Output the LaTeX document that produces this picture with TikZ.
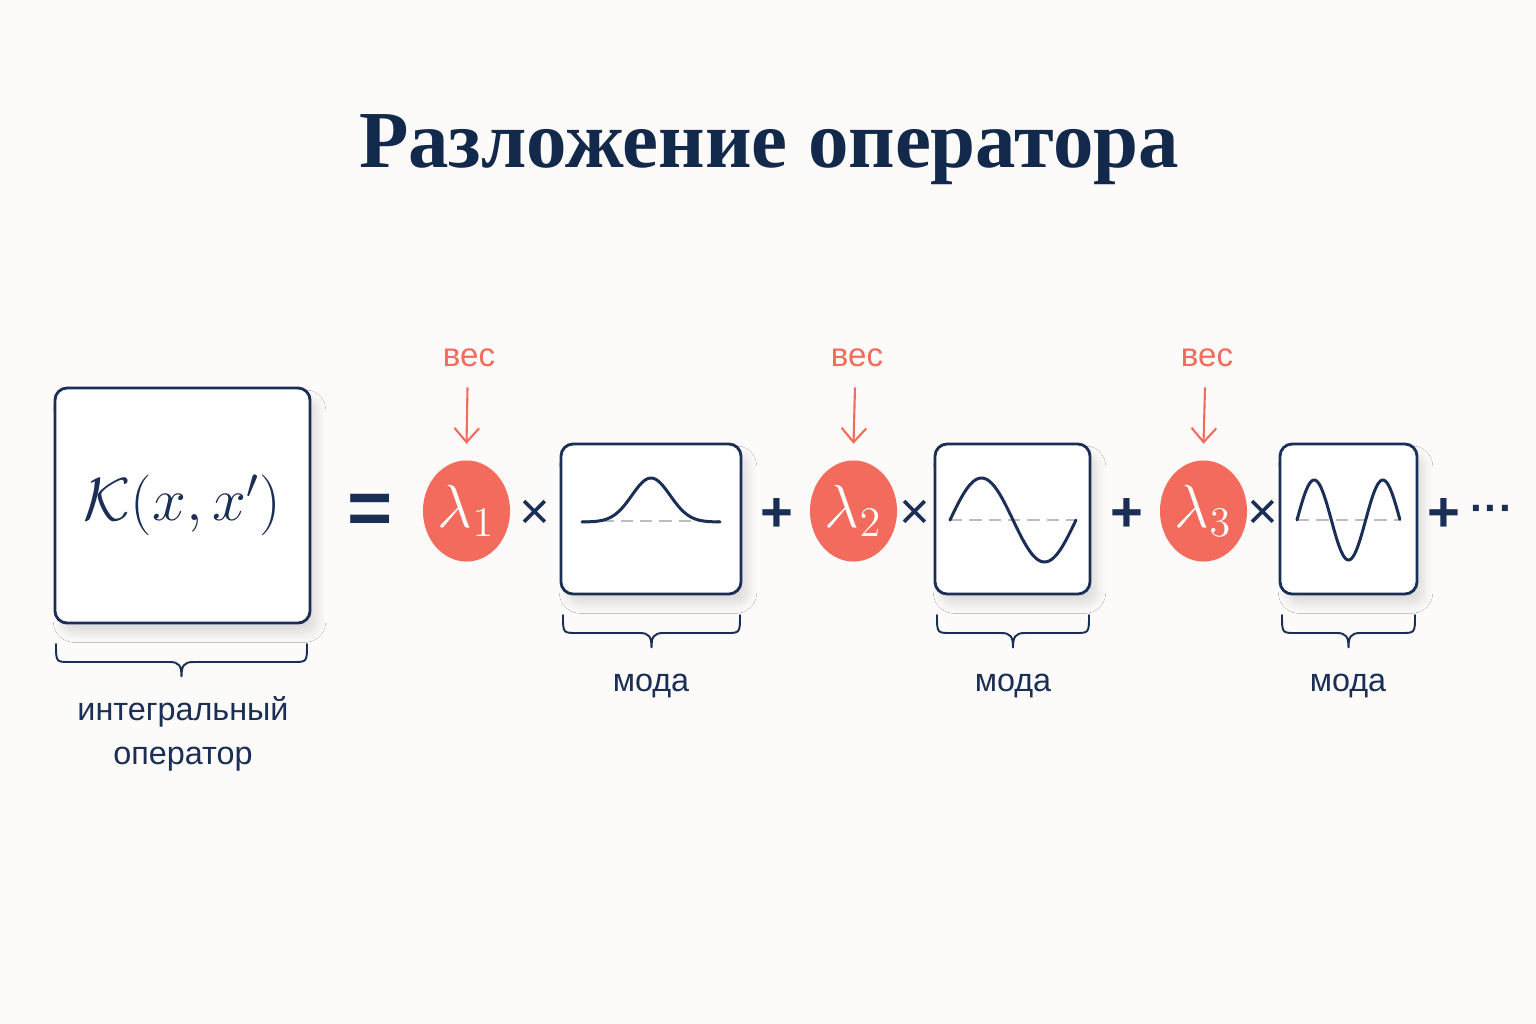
\documentclass[tikz,border=0pt]{standalone}
\usepackage{fontspec}
\setmainfont{Liberation Serif}
\setsansfont{Liberation Sans}
\usetikzlibrary{shapes.geometric,arrows.meta,shadows.blur,calc}
\definecolor{navy}{HTML}{1B2E56}
\definecolor{titlenavy}{HTML}{13294B}
\definecolor{coral}{HTML}{F36B5C}
\definecolor{bgc}{HTML}{FCFBF9}
\definecolor{dashgray}{HTML}{BDBDBD}
\newcommand\mybrace[5]{% x1 x2 top line tip
  \pgfmathsetmacro\bc{(#1+#2)/2}
  \draw[bracestyle] (#1,#3) .. controls (#1,#4) .. (#1+14,#4) -- (\bc-12,#4)
     .. controls (\bc-2,#4) and (\bc,#4+4) .. (\bc,#5)
     .. controls (\bc,#4+4) and (\bc+2,#4) .. (\bc+12,#4) -- (#2-14,#4)
     .. controls (#2,#4) .. (#2,#3);}
\begin{document}
\begin{tikzpicture}[x=0.01cm,y=-0.01cm,
  boxstyle/.style={draw=navy, line width=0.8pt, rounded corners=3.5pt, fill=white, inner sep=0pt,
     blur shadow={shadow xshift=2pt, shadow yshift=-3pt, shadow blur radius=2.5pt, shadow blur steps=10, shadow opacity=12}},
  lam/.style={ellipse, fill=coral, minimum width=0.87cm, minimum height=1.01cm, inner sep=0pt,
     text=white, font=\fontsize{18}{20}\selectfont},
  wlabel/.style={text=coral, font=\sffamily\fontsize{9.4}{11}\selectfont, inner sep=1pt},
  warrow/.style={draw=coral, line width=0.6pt, -{Straight Barb[length=4pt,width=7pt,line width=0.6pt]}},
  op/.style={text=navy, inner sep=0pt},
  curve/.style={draw=navy, line width=0.85pt, line cap=round},
  zeroline/.style={draw=dashgray, line width=0.7pt, dash pattern=on 3.5pt off 2pt},
  bracestyle/.style={draw=navy, line width=0.55pt, line cap=round},
  lbl/.style={text=navy, font=\sffamily\fontsize{9.2}{12.5}\selectfont, align=center, inner sep=0pt}]
\fill[bgc] (0,0) rectangle (1536,1024);
\useasboundingbox (0,0) rectangle (1536,1024);

% title
\node[text=titlenavy, font=\rmfamily\bfseries\fontsize{23}{28}\selectfont] (title) at (769,150) {Разложение оператора};

% kernel box
\node[boxstyle, minimum width=2.55cm, minimum height=2.35cm] (K) at (182.5,505.5) {};
\node[text=navy, font=\fontsize{17}{20}\selectfont] (Ktext) at (K.center) {$\mathcal{K}(x,x')$};
\mybrace{56}{307}{644}{662}{677}
\node[lbl] (Klbl) at (183,734) {интегральный\\оператор};

% equals
\node[op, font=\sffamily\bfseries\fontsize{22}{24}\selectfont] (eq) at (370,514) {=};

% lambdas
\node[lam] (c1) at (466.5,511) {$\lambda_1$};
\node[lam] (c2) at (853.5,511) {$\lambda_2$};
\node[lam] (c3) at (1203.5,511) {$\lambda_3$};

\node[wlabel] (w1) at (469,358) {вес};
\node[wlabel] (w2) at (857,358) {вес};
\node[wlabel] (w3) at (1207,358) {вес};
\draw[warrow] ($(w1.south)+(-1.5,16)$) -- ($(c1.north)+(0,-16)$);
\draw[warrow] ($(w2.south)+(-2,16)$) -- ($(c2.north)+(0,-16)$);
\draw[warrow] ($(w3.south)+(-2,16)$) -- ($(c3.north)+(0,-16)$);

% times
\node[op, font=\sffamily\fontsize{15}{16}\selectfont] (t1) at (535,515) {×};
\node[op, font=\sffamily\fontsize{15}{16}\selectfont] (t2) at (915,515) {×};
\node[op, font=\sffamily\fontsize{15}{16}\selectfont] (t3) at (1263,515) {×};

% plus
\node[op, font=\sffamily\bfseries\fontsize{16}{18}\selectfont] (p1) at (777,515) {+};
\node[op, font=\sffamily\bfseries\fontsize{16}{18}\selectfont] (p2) at (1127,515) {+};
\node[op, font=\sffamily\bfseries\fontsize{16}{18}\selectfont] (p3) at (1444,515) {+};
\node[op, font=\sffamily\bfseries\fontsize{12}{14}\selectfont] (dots) at (1492,514) {···};

% mode boxes
\node[boxstyle, minimum width=1.80cm, minimum height=1.50cm] (b1) at (651,519) {};
\node[boxstyle, minimum width=1.55cm, minimum height=1.50cm] (b2) at (1012.5,519) {};
\node[boxstyle, minimum width=1.37cm, minimum height=1.50cm] (b3) at (1348.5,519) {};

% curves
\draw[zeroline] (582,521) -- (720,521);
\draw[curve] plot[domain=-69:69, samples=80, smooth] (\x+651, {522-44*exp(-(\x/27)^2)});
\draw[zeroline] (950,520) -- (1076,520);
\draw[curve] plot[domain=0:1, samples=80, smooth] ({950+126*\x}, {520-42*sin(360*\x)});
\draw[zeroline] (1297,520) -- (1400,520);
\draw[curve] plot[domain=0:1, samples=100, smooth] ({1297+103*\x}, {520-40*sin(540*\x)});

% braces
\mybrace{563}{740}{615}{633}{648}
\mybrace{937}{1089}{615}{633}{648}
\mybrace{1282}{1415}{615}{633}{648}
\node[lbl] (m1) at (651,686) {мода};
\node[lbl] (m2) at (1013,686) {мода};
\node[lbl] (m3) at (1348,686) {мода};
\end{tikzpicture}
\end{document}
